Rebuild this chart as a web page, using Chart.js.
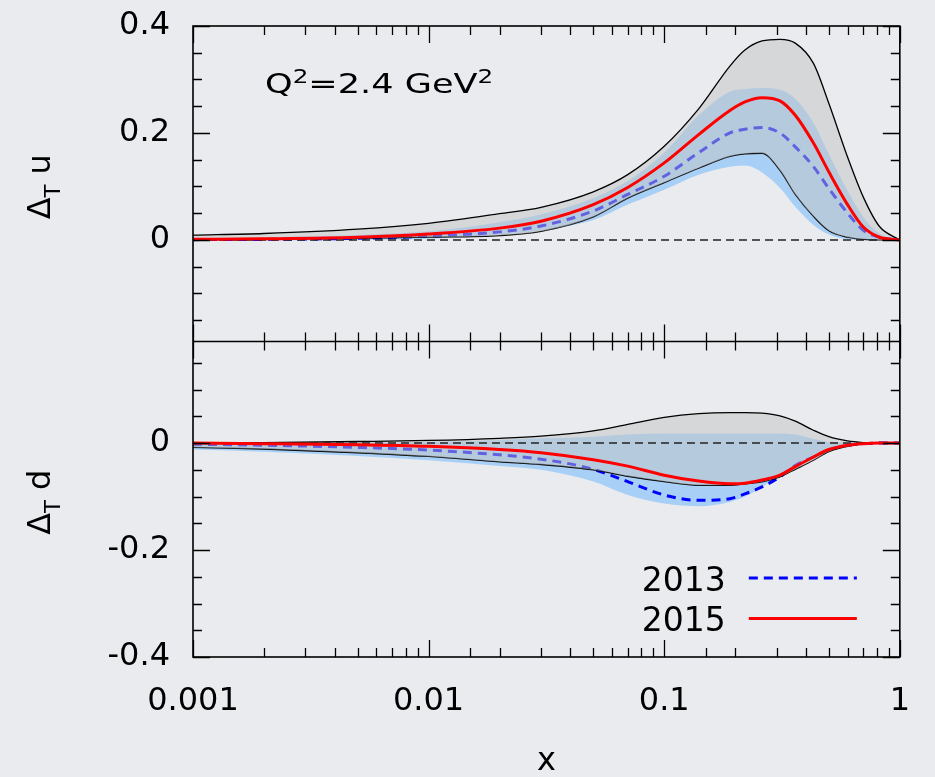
<!DOCTYPE html>
<html>
<head>
<meta charset="utf-8">
<script src="https://cdn.jsdelivr.net/npm/chart.js@4.4.1/dist/chart.umd.min.js"></script>
<style>
  html, body { margin: 0; padding: 0; background: #e9ebee; }
  #wrap { width: 935px; height: 777px; }
</style>
</head>
<body>
<div id="wrap"><canvas id="chart" width="935" height="777"></canvas></div>
<script>
// x grid shared by every curve
var xs = [0.001, 0.002, 0.005, 0.01, 0.02, 0.03, 0.05, 0.07, 0.1, 0.14, 0.19, 0.22, 0.26, 0.31, 0.36, 0.43, 0.5, 0.6, 0.7, 0.82, 1];

// upper panel: transversity u
var u2015   = [0.001, 0.002, 0.005, 0.011, 0.022, 0.035, 0.066, 0.098, 0.144, 0.197, 0.242, 0.258, 0.266, 0.26, 0.233, 0.181, 0.127, 0.066, 0.024, 0.005, 0];
var u2015Hi = [0.009, 0.012, 0.02, 0.031, 0.049, 0.061, 0.09, 0.122, 0.175, 0.245, 0.325, 0.355, 0.372, 0.375, 0.368, 0.33, 0.255, 0.155, 0.08, 0.025, 0];
var u2015Lo = [0.001, 0.002, 0.003, 0.005, 0.008, 0.016, 0.043, 0.078, 0.107, 0.134, 0.156, 0.161, 0.162, 0.13, 0.085, 0.044, 0.017, 0.005, 0.001, 0, 0];
var u2013   = [0.0005, 0.001, 0.003, 0.007, 0.015, 0.026, 0.054, 0.085, 0.119, 0.163, 0.2, 0.207, 0.21, 0.2, 0.174, 0.137, 0.096, 0.05, 0.018, 0.005, 0];
var u2013Hi = [0.003, 0.005, 0.009, 0.016, 0.033, 0.048, 0.078, 0.11, 0.163, 0.233, 0.277, 0.282, 0.284, 0.281, 0.264, 0.219, 0.16, 0.092, 0.043, 0.012, 0];
var u2013Lo = [-0.002, -0.001, 0, 0.002, 0.01, 0.018, 0.037, 0.066, 0.094, 0.122, 0.137, 0.139, 0.126, 0.097, 0.062, 0.028, 0.01, 0.001, 0, 0, 0];

// lower panel: transversity d
var d2015   = [0, -0.001, -0.003, -0.006, -0.012, -0.018, -0.031, -0.043, -0.06, -0.071, -0.076, -0.075, -0.069, -0.06, -0.044, -0.026, -0.012, -0.004, -0.001, 0, 0];
var d2015Hi = [0, 0.001, 0.003, 0.005, 0.009, 0.013, 0.023, 0.035, 0.048, 0.055, 0.057, 0.057, 0.056, 0.051, 0.041, 0.024, 0.012, 0.004, 0.001, 0, 0];
var d2015Lo = [-0.008, -0.011, -0.018, -0.025, -0.035, -0.04, -0.05, -0.062, -0.072, -0.079, -0.079, -0.076, -0.0725, -0.063, -0.049, -0.032, -0.016, -0.006, -0.001, 0, 0];
var d2013   = [-0.002, -0.004, -0.008, -0.013, -0.022, -0.03, -0.049, -0.072, -0.097, -0.107, -0.104, -0.095, -0.082, -0.063, -0.042, -0.026, -0.013, -0.004, -0.001, 0, 0];
var d2013Hi = [0, 0, 0.001, 0.002, 0.006, 0.009, 0.012, 0.016, 0.018, 0.018, 0.018, 0.018, 0.018, 0.018, 0.016, 0.008, 0.002, 0, 0, 0, 0];
var d2013Lo = [-0.012, -0.016, -0.024, -0.032, -0.043, -0.05, -0.072, -0.097, -0.113, -0.118, -0.11, -0.1, -0.082, -0.06, -0.046, -0.03, -0.015, -0.005, -0.001, 0, 0];

var zeroX = [0.001, 1];
var zeroY = [0, 0];

var FONT = '"DejaVu Sans", sans-serif';
var BLUE_BAND = 'rgb(168,208,247)';
var GREY_BAND = 'rgba(195,195,195,0.5)';

function pts(xv, yv) {
  return xv.map(function (x, i) { return { x: x, y: yv[i] }; });
}

function panel(axis, c15, hi15, lo15, c13, hi13, lo13) {
  return [
    { data: pts(xs, hi13), yAxisID: axis, borderWidth: 0, backgroundColor: BLUE_BAND, fill: '+1', order: 10 },
    { data: pts(xs, lo13), yAxisID: axis, borderWidth: 0, fill: false, order: 10 },
    { label: axis === 'yD' ? '2013' : '', data: pts(xs, c13), yAxisID: axis, borderColor: '#0000ff', borderWidth: 3, borderDash: [9, 6], fill: false, order: 9 },
    { data: pts(xs, hi15), yAxisID: axis, borderColor: '#000', borderWidth: 1.3, backgroundColor: GREY_BAND, fill: '+1', order: 8 },
    { data: pts(xs, lo15), yAxisID: axis, borderColor: '#000', borderWidth: 1.3, fill: false, order: 8 },
    { data: pts(zeroX, zeroY), yAxisID: axis, borderColor: '#222', borderWidth: 1.5, borderDash: [8, 5], fill: false, order: 7 },
    { label: axis === 'yD' ? '2015' : '', data: pts(xs, c15), yAxisID: axis, borderColor: '#ff0000', borderWidth: 3, fill: false, order: 6 }
  ];
}

var datasets = panel('yU', u2015, u2015Hi, u2015Lo, u2013, u2013Hi, u2013Lo)
  .concat(panel('yD', d2015, d2015Hi, d2015Lo, d2013, d2013Hi, d2013Lo));

function isDecade(v) {
  var l = Math.log10(v);
  return Math.abs(l - Math.round(l)) < 1e-6;
}

function yLabel(value) {
  if (Math.abs(value) < 1e-9) return '0';
  return value.toFixed(1);
}

// gnuplot style frame with inward ticks
var framePlugin = {
  id: 'frame',
  afterDatasetsDraw: function (chart) {
    var ctx = chart.ctx, a = chart.chartArea, sx = chart.scales.x;
    var yU = chart.scales.yU, yD = chart.scales.yD;
    var mid = yU.bottom;
    ctx.save();
    ctx.strokeStyle = '#000';
    ctx.lineWidth = 1.6;
    ctx.strokeRect(a.left, a.top, a.right - a.left, a.bottom - a.top);
    ctx.beginPath();
    ctx.moveTo(a.left, mid);
    ctx.lineTo(a.right, mid);
    ctx.stroke();
    ctx.lineWidth = 1.3;
    ctx.beginPath();
    sx.ticks.forEach(function (t) {
      var px = Math.round(sx.getPixelForValue(t.value)) + 0.5;
      var len = isDecade(t.value) ? 17 : 9;
      ctx.moveTo(px, a.top); ctx.lineTo(px, a.top + len);
      ctx.moveTo(px, a.bottom); ctx.lineTo(px, a.bottom - len);
      ctx.moveTo(px, mid - len); ctx.lineTo(px, mid + len);
    });
    [yU, yD].forEach(function (s) {
      for (var k = Math.ceil(s.min / 0.05 - 1e-6); k * 0.05 <= s.max + 1e-6; k++) {
        var py = Math.round(s.getPixelForValue(k * 0.05)) + 0.5;
        var len = (k % 4 === 0) ? 17 : 9;
        ctx.moveTo(a.left, py); ctx.lineTo(a.left + len, py);
        ctx.moveTo(a.right, py); ctx.lineTo(a.right - len, py);
      }
    });
    ctx.stroke();
    ctx.restore();
  }
};

function drawYTitle(ctx, cx, cy, flavour) {
  ctx.save();
  ctx.translate(cx, cy);
  ctx.rotate(-Math.PI / 2);
  ctx.textBaseline = 'alphabetic';
  ctx.textAlign = 'left';
  ctx.font = '32px ' + FONT;
  var w1 = ctx.measureText('\u0394').width;
  var w3 = ctx.measureText(' ' + flavour).width;
  ctx.font = '21px ' + FONT;
  var w2 = ctx.measureText('T').width;
  var x0 = -(w1 + w2 + w3) / 2;
  ctx.font = '32px ' + FONT;
  ctx.fillText('\u0394', x0, 0);
  ctx.font = '21px ' + FONT;
  ctx.fillText('T', x0 + w1, 10);
  ctx.font = '32px ' + FONT;
  ctx.fillText(' ' + flavour, x0 + w1 + w2, 0);
  ctx.restore();
}

var textPlugin = {
  id: 'texts',
  afterDraw: function (chart) {
    var ctx = chart.ctx, a = chart.chartArea;
    var yU = chart.scales.yU, yD = chart.scales.yD;
    ctx.save();
    ctx.fillStyle = '#000';
    drawYTitle(ctx, 50, (yU.top + yU.bottom) / 2 + 3, 'u');
    drawYTitle(ctx, 50, (yD.top + yD.bottom) / 2 + 3, 'd');

    // Q^2 label (wide lettering as in the original)
    ctx.save();
    ctx.translate(a.left + 72, a.top + 67);
    ctx.scale(1.3, 1);
    ctx.textBaseline = 'alphabetic';
    ctx.textAlign = 'left';
    var parts = [['Q', 27, 0], ['2', 19, -10], ['=2.4 GeV', 27, 0], ['2', 19, -10]];
    var x = 0;
    parts.forEach(function (p) {
      ctx.font = p[1] + 'px ' + FONT;
      ctx.fillText(p[0], x, p[2]);
      x += ctx.measureText(p[0]).width;
    });
    ctx.restore();

    // legend: text then line sample
    var entries = chart.data.datasets.filter(function (d) { return d.label === '2013' || d.label === '2015'; });
    ctx.font = '33px ' + FONT;
    ctx.textAlign = 'right';
    ctx.textBaseline = 'alphabetic';
    entries.forEach(function (d, i) {
      var base = a.bottom - 66 + i * 40;
      var ly = a.bottom - 79 + i * 40.5;
      ctx.fillStyle = '#000';
      ctx.fillText(d.label, a.right - 174, base);
      ctx.save();
      ctx.strokeStyle = d.borderColor;
      ctx.lineWidth = 3;
      ctx.setLineDash(d.borderDash || []);
      ctx.beginPath();
      ctx.moveTo(a.right - 151, ly);
      ctx.lineTo(a.right - 43, ly);
      ctx.stroke();
      ctx.restore();
    });
    ctx.restore();
  }
};

function yAxis(min, max) {
  return {
    type: 'linear',
    position: 'left',
    stack: 'panels',
    stackWeight: 1,
    min: min,
    max: max,
    grid: { display: false, drawTicks: false },
    border: { display: false },
    afterFit: function (s) {
      s.width = 193;
      s.paddingTop = 0;
      s.paddingBottom = 0;
    },
    ticks: {
      stepSize: 0.2,
      includeBounds: false,
      padding: 23,
      color: '#000',
      font: { family: FONT, size: 32 },
      callback: function (v) { return yLabel(v); }
    }
  };
}

new Chart(document.getElementById('chart').getContext('2d'), {
  type: 'line',
  data: { datasets: datasets },
  options: {
    responsive: false,
    animation: false,
    events: [],
    layout: { padding: { left: 0, right: 31, top: 26, bottom: 0 } },
    elements: {
      point: { radius: 0 },
      line: { cubicInterpolationMode: 'monotone' }
    },
    plugins: {
      legend: { display: false },
      tooltip: { enabled: false }
    },
    scales: {
      x: {
        type: 'logarithmic',
        position: 'bottom',
        min: 0.001,
        max: 1,
        grid: { display: false, drawTicks: false },
        border: { display: false },
        afterFit: function (s) { s.height = 120; },
        ticks: {
          autoSkip: false,
          maxRotation: 0,
          padding: 25,
          color: '#000',
          font: { family: FONT, size: 32 },
          callback: function (v) { return isDecade(v) ? String(v) : ''; }
        },
        title: {
          display: true,
          text: 'x',
          color: '#000',
          font: { family: FONT, size: 32 },
          padding: { top: 0, bottom: -4 }
        }
      },
      yD: yAxis(-0.4, 0.19),
      yU: yAxis(-0.19, 0.4)
    }
  },
  plugins: [framePlugin, textPlugin]
});
</script>
</body>
</html>
